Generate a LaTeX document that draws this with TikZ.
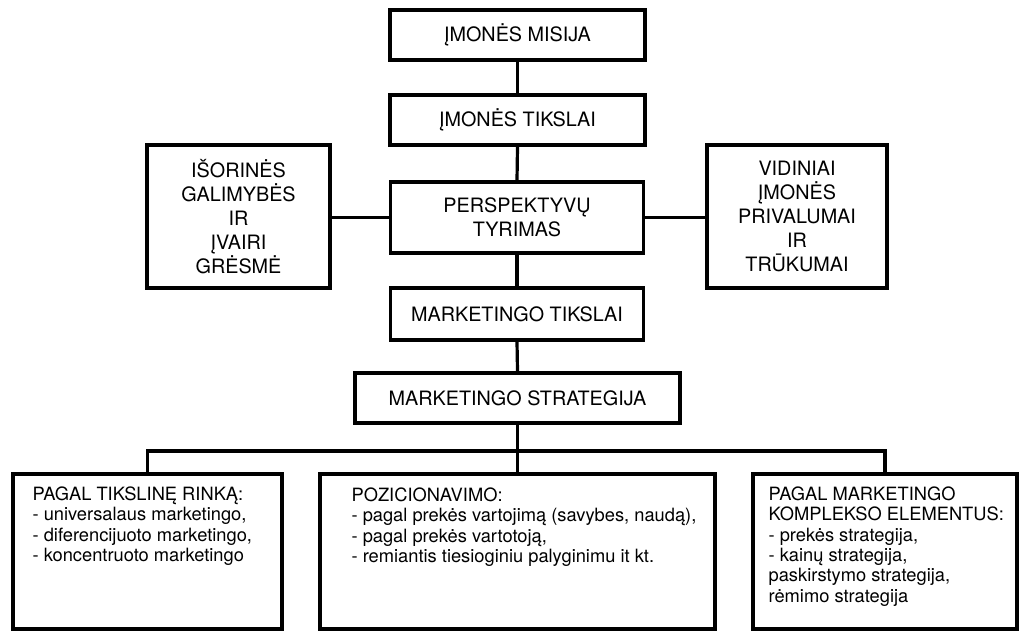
\documentclass[tikz,border=0pt]{standalone}
\usepackage{fontspec}
\setmainfont{TeX Gyre Heros}
\begin{document}
\begin{tikzpicture}[x=1pt,y=-1pt,
  box/.style={draw, line width=3.2pt, rectangle, inner sep=0pt, align=center,
    font=\fontsize{19.8}{24.2}\selectfont},
  lowbox/.style={draw, line width=3.2pt, rectangle, inner sep=0pt,
    minimum height=155pt},
  lowtext/.style={anchor=north west, inner sep=0pt, align=left,
    font=\fontsize{18.3}{20.4}\selectfont},
  link/.style={line width=3.2pt}]
\useasboundingbox (0,0) rectangle (1019,632);

% central chain
\node[box, minimum width=255pt, minimum height=50pt] (misija) at (517.5,35) {ĮMONĖS MISIJA};
\node[box, minimum width=255pt, minimum height=50pt] (tikslai) at (517.5,120) {ĮMONĖS TIKSLAI};
\node[box, minimum width=253pt, minimum height=71pt] (persp) at (517,217.5) {PERSPEKTYVŲ\\TYRIMAS};
\node[box, minimum width=253pt, minimum height=52pt] (mtiksl) at (517,314) {MARKETINGO TIKSLAI};
\node[box, minimum width=325pt, minimum height=50pt] (mstrat) at (517.5,398) {MARKETINGO STRATEGIJA};

% side boxes
\node[box, minimum width=183pt, minimum height=143pt] (isor) at (238.5,216.5)
  {IŠORINĖS\\GALIMYBĖS\\IR\\ĮVAIRI\\GRĖSMĖ};
\node[box, minimum width=180pt, minimum height=143pt] (vid) at (797,216.5)
  {VIDINIAI\\ĮMONĖS\\PRIVALUMAI\\IR\\TRŪKUMAI};

% strategy boxes
\node[lowbox, minimum width=269pt] (tgt) at (147.5,551.5) {};
\node[lowbox, minimum width=395pt] (pos) at (517.5,551.5) {};
\node[lowbox, minimum width=264pt] (kompl) at (885,551.5) {};

\node[lowtext] (tgttxt) at ([xshift=21pt,yshift=-14pt]tgt.north west)
  {PAGAL TIKSLINĘ RINKĄ:\\- universalaus marketingo,\\- diferencijuoto marketingo,\\- koncentruoto marketingo};
\node[lowtext] (postxt) at ([xshift=33pt,yshift=-15pt]pos.north west)
  {POZICIONAVIMO:\\- pagal prekės vartojimą (savybes, naudą),\\- pagal prekės vartotoją,\\- remiantis tiesioginiu palyginimu it kt.};
\node[lowtext] (kompltxt) at ([xshift=17pt,yshift=-14pt]kompl.north west)
  {PAGAL MARKETINGO\\KOMPLEKSO ELEMENTUS:\\- prekės strategija,\\- kainų strategija,\\paskirstymo strategija,\\rėmimo strategija};

% connectors
\coordinate (busy) at (0,451);
\draw[link] (misija.south) -- (tikslai.north);
\draw[link] (tikslai.south) -- (persp.north);
\draw[link] (persp.south) -- (mtiksl.north);
\draw[link] (mtiksl.south) -- (mstrat.north);
\draw[link] (persp.west) -- (persp.west -| isor.east);
\draw[link] (persp.east) -- (persp.east -| vid.west);
\draw[link] (mstrat.south) -- (pos.north);
\draw[link] (tgt.north) |- (kompl.north |- busy) -- (kompl.north);
\end{tikzpicture}
\end{document}
